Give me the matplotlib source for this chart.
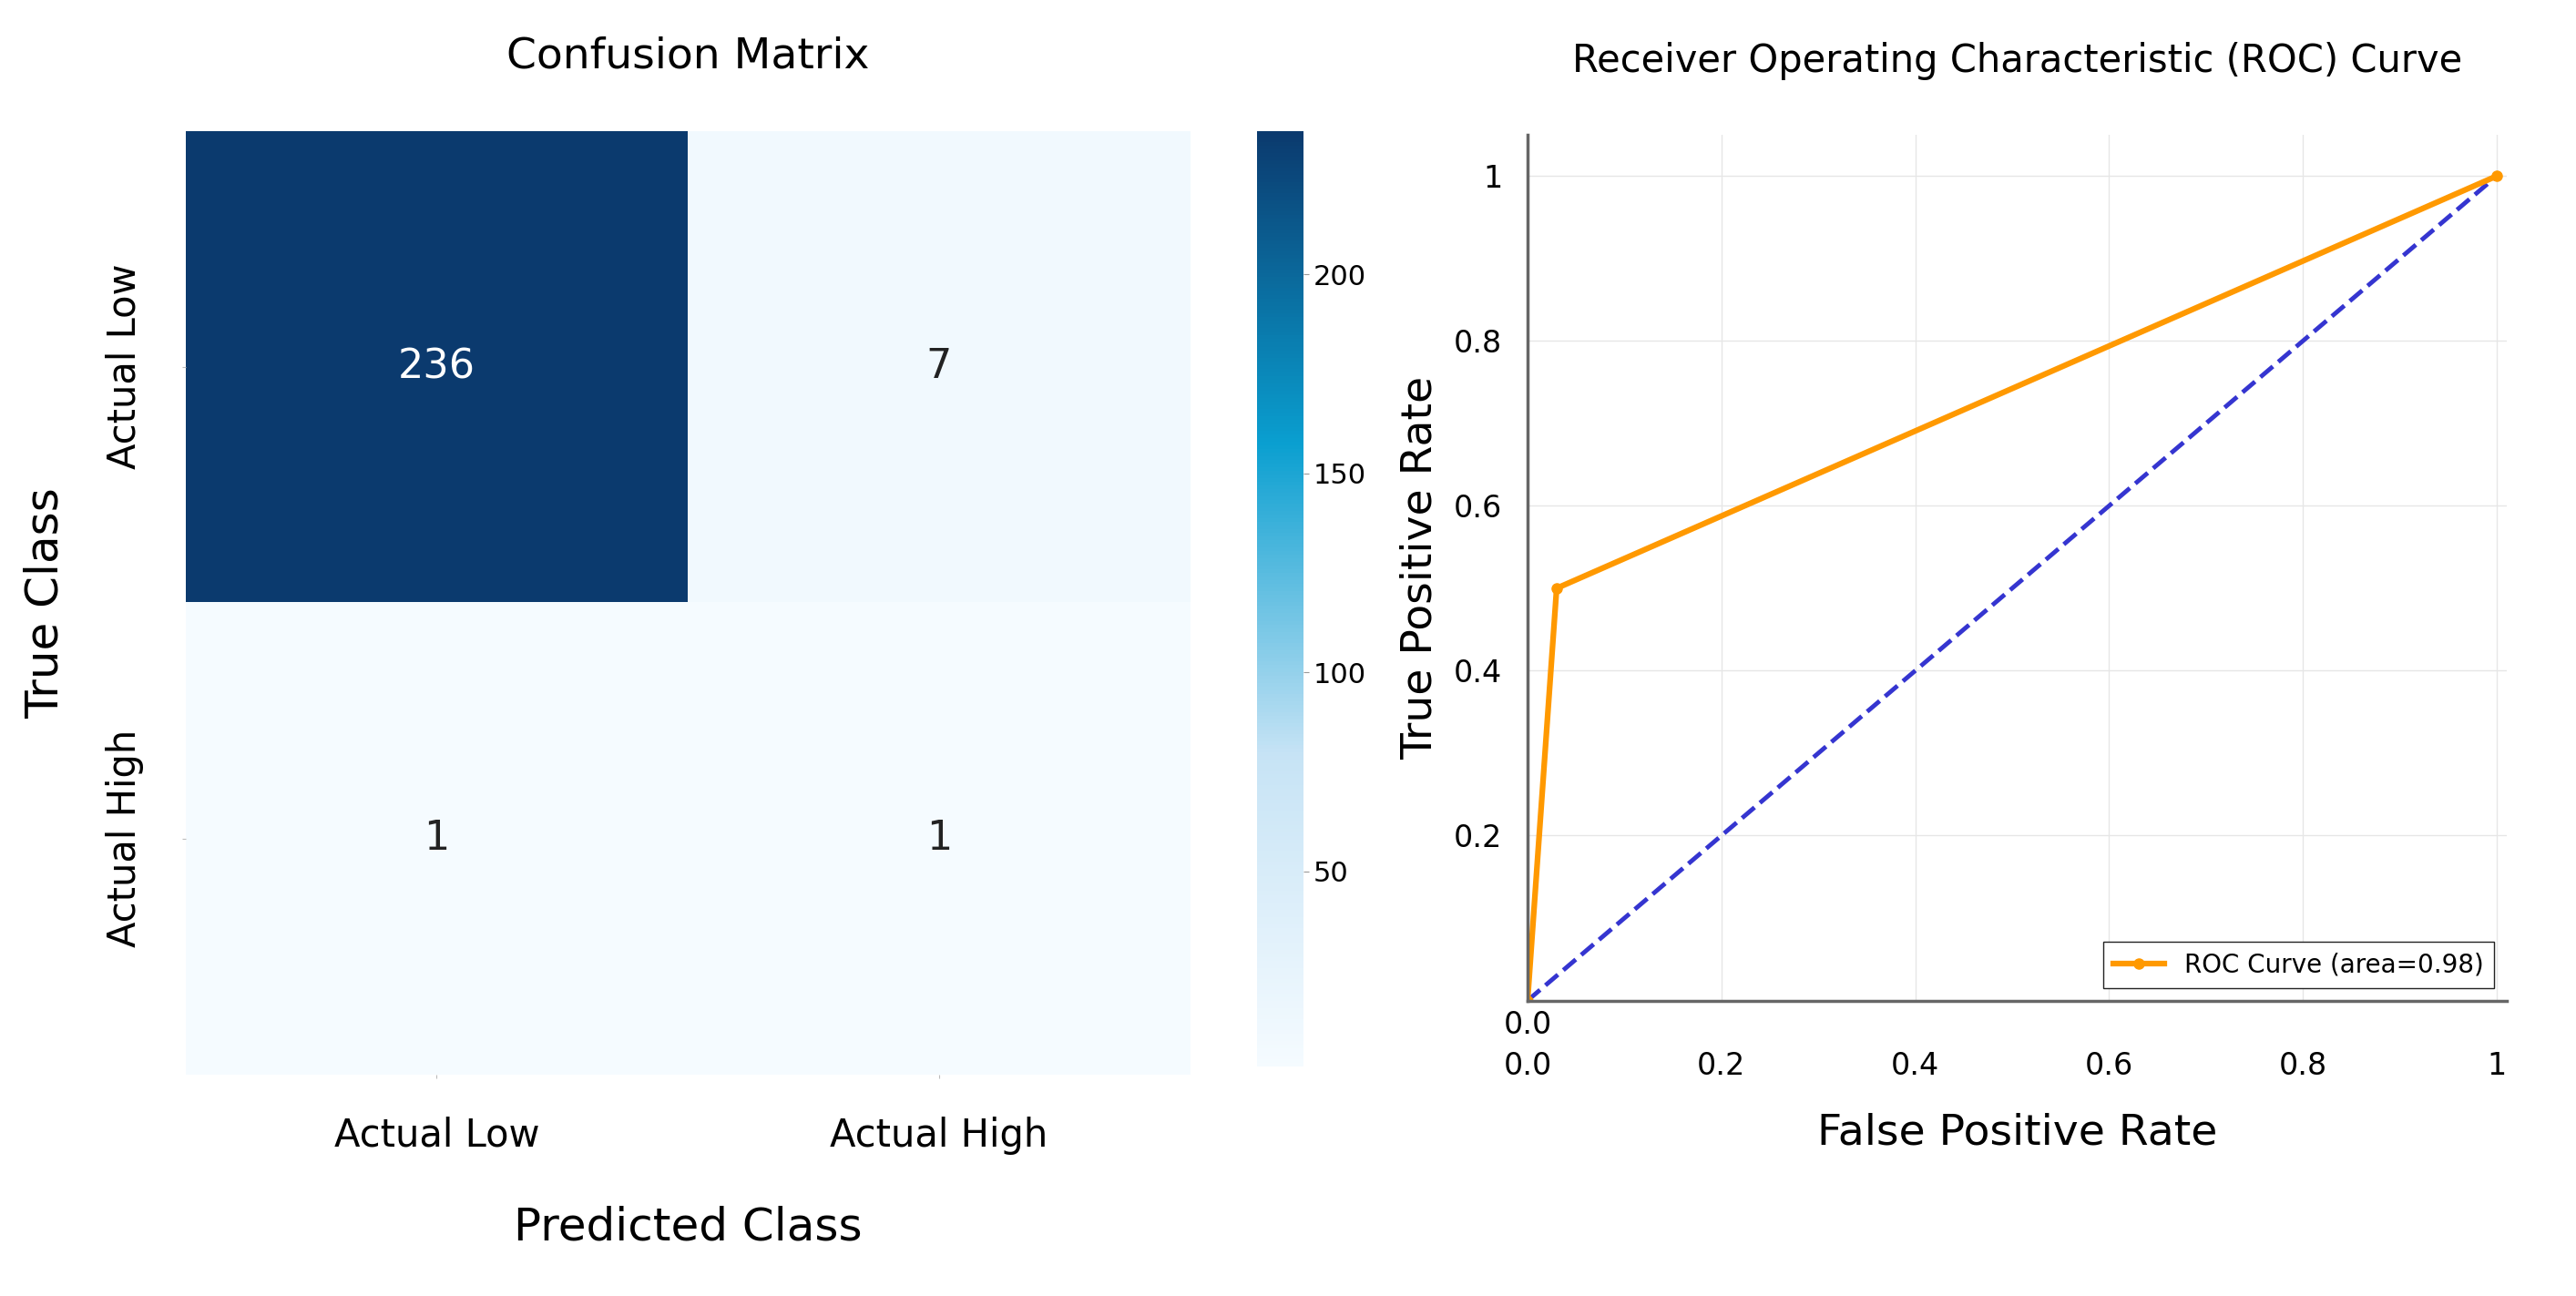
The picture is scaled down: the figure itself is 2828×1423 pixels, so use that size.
import numpy as np
import matplotlib
matplotlib.use("Agg")
import matplotlib.pyplot as plt
from matplotlib.colors import LinearSegmentedColormap

# data
class_labels = ["Actual Low", "Actual High"]
cm_values = np.array([[236, 7], [1, 1]])
cbar_ticks = [50, 100, 150, 200]

fpr = [0.0, 0.03, 1.0]
tpr = [0.0, 0.5, 1.0]
roc_label = "ROC Curve (area=0.98)"
x_ticks = [0.0, 0.2, 0.4, 0.6, 0.8, 1.0]
x_tick_labels = ["0.0", "0.2", "0.4", "0.6", "0.8", "1"]
y_ticks = [0.2, 0.4, 0.6, 0.8, 1.0]
y_tick_labels = ["0.2", "0.4", "0.6", "0.8", "1"]

cmap = LinearSegmentedColormap.from_list(
    "cm_blues", ["#f5fbff", "#c6e3f5", "#0a9fd0", "#0b3a6e"])

fig = plt.figure(figsize=(28.28, 14.23), dpi=100)

# --- confusion matrix ---
ax1 = fig.add_axes([0.072, 0.171, 0.39, 0.728])
cax = fig.add_axes([0.488, 0.177, 0.018, 0.722])
im = ax1.imshow(cm_values, cmap=cmap, vmin=1, vmax=236, aspect="auto")
for i in range(2):
    for j in range(2):
        v = cm_values[i, j]
        ax1.text(j, i, str(v), ha="center", va="center", fontsize=32,
                 color="white" if v > 100 else "#222222")
ax1.set_xticks(range(2))
ax1.set_xticklabels(class_labels, fontsize=30)
ax1.set_yticks(range(2))
ax1.set_yticklabels(class_labels, fontsize=30, rotation=90, va="center")
ax1.tick_params(length=3, color="#bbbbbb", pad=30)
for s in ax1.spines.values():
    s.set_visible(False)
ax1.set_xlabel("Predicted Class", fontsize=36, labelpad=40)
ax1.set_ylabel("True Class", fontsize=36, labelpad=30)
ax1.set_title("Confusion Matrix", fontsize=34, pad=50)

cb = fig.colorbar(im, cax=cax)
cb.set_ticks(cbar_ticks)
cb.ax.tick_params(labelsize=22, length=4, color="#999999")
cb.outline.set_visible(False)

# --- ROC ---
ax2 = fig.add_axes([0.593, 0.228, 0.38, 0.668])
ax2.plot([0, 1], [0, 1], linestyle="--", color="#3535d0", linewidth=3.5)
ax2.plot(fpr, tpr, color="#ff9900", linewidth=4.5, marker="o", markersize=8,
         label=roc_label)
ax2.set_xlim(0, 1.01)
ax2.set_ylim(0, 1.05)
ax2.set_xticks(x_ticks)
ax2.set_xticklabels(x_tick_labels, fontsize=24)
ax2.set_yticks(y_ticks)
ax2.set_yticklabels(y_tick_labels, fontsize=24)
ax2.tick_params(axis="y", length=0, pad=20)
ax2.tick_params(axis="x", length=0, pad=40)
for lbl in ax2.get_xticklabels()[:1]:
    lbl.set_x(0.03)
ax2.text(0.0, -0.012, "0.0", fontsize=24, ha="center", va="top",
         transform=ax2.transData)
ax2.grid(True, color="#e6e6e6", linewidth=1)
for k in ["top", "right"]:
    ax2.spines[k].set_visible(False)
ax2.spines["left"].set_color("#666666")
ax2.spines["bottom"].set_color("#666666")
ax2.spines["left"].set_linewidth(2.5)
ax2.spines["bottom"].set_linewidth(2.5)
ax2.set_xlabel("False Positive Rate", fontsize=34, labelpad=25)
ax2.set_ylabel("True Positive Rate", fontsize=34, labelpad=10)
ax2.set_title("Receiver Operating Characteristic (ROC) Curve", fontsize=30, pad=50)
ax2.legend(loc="lower right", fontsize=20, fancybox=False,
           edgecolor="#222222", framealpha=1)

fig.savefig("out.png", dpi=100)
